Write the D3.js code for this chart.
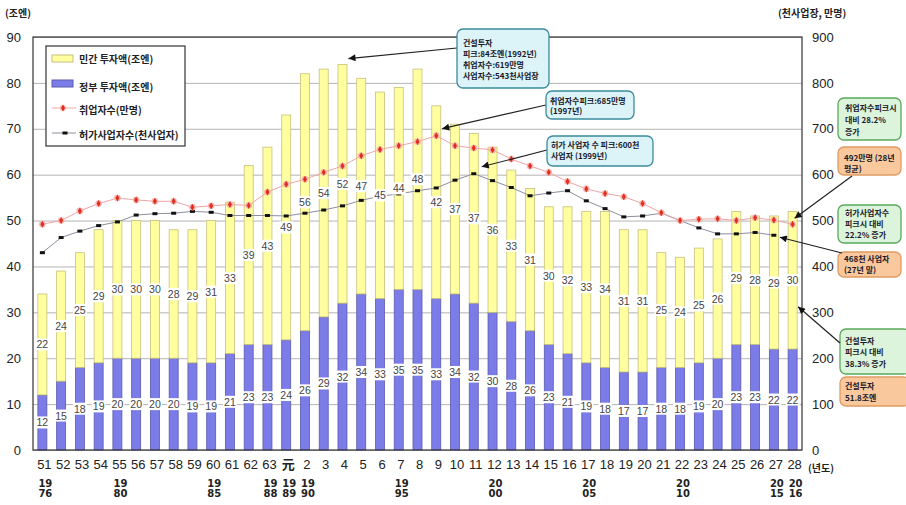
<!DOCTYPE html>
<html><head><meta charset="utf-8">
<script src="https://cdn.jsdelivr.net/npm/d3@7"></script>
<style>body{margin:0;background:#fff} svg{display:block}</style>
</head><body><svg id="c" width="906" height="505"></svg>
<script>
// ---------- DATA ----------
const categories = ["51","52","53","54","55","56","57","58","59","60","61","62","63","元",
  "2","3","4","5","6","7","8","9","10","11","12","13","14","15","16","17","18","19","20",
  "21","22","23","24","25","26","27","28"];
const westernYears = ["1976","","","","1980","","","","","1985","","","1988","1989",
  "1990","","","","","1995","","","","","2000","","","","","2005","","","",
  "","2010","","","","","2015","2016"];
const govInvest = [12,15,18,19,20,20,20,20,19,19,21,23,23,24,26,29,32,34,33,35,35,33,34,32,30,28,26,23,21,19,18,17,17,18,18,19,20,23,23,22,22];
const privInvest = [22,24,25,29,30,30,30,28,29,31,33,39,43,49,56,54,52,47,45,44,48,42,37,37,36,33,31,30,32,33,34,31,31,25,24,25,26,29,28,29,30];
const employment = [492,500,521,537,549,545,542,542,529,532,535,533,562,579,590,605,619,641,655,663,672,685,663,658,654,634,619,605,585,569,559,552,537,517,500,503,504,500,506,501,492];
const permits = [430,463,477,489,497,512,515,516,520,518,511,511,511,510,516,523,532,544,553,558,565,571,588,602,587,572,554,560,565,543,526,508,510,516,500,484,471,471,474,468,null];
const leftTicks = [0,10,20,30,40,50,60,70,80,90];
const rightTicks = [0,100,200,300,400,500,600,700,800,900];
const legendLabels = ["민간 투자액(조엔)","정부 투자액(조엔)","취업자수(만명)","허가사업자수(천사업자)"];

// ---------- SETUP ----------
const KR = "'Noto Sans CJK KR','Noto Sans',sans-serif";
const NUM = "'Liberation Sans',Arial,sans-serif";
const svg = d3.select("#c");
svg.append("rect").attr("width",906).attr("height",505).attr("fill","#fff");
const P = {l:33, r:802, t:37, b:450};
const x = d3.scaleBand().domain(categories).range([P.l,P.r]).paddingInner(0.52).paddingOuter(0.26);
const xc = c => x(c) + x.bandwidth()/2;
const yL = d3.scaleLinear().domain([0,90]).range([P.b,P.t]);
const yR = d3.scaleLinear().domain([0,900]).range([P.b,P.t]);

// gridlines
const grid = svg.append("g").attr("transform",`translate(${P.l},0)`)
  .call(d3.axisLeft(yL).tickValues(leftTicks).tickSize(-(P.r-P.l)).tickFormat(""));
grid.select(".domain").remove();
grid.selectAll("line").attr("stroke","#b4b4b4").attr("stroke-width",1);

// left axis labels
const ax1 = svg.append("g").attr("transform",`translate(${P.l},0)`)
  .call(d3.axisLeft(yL).tickValues(leftTicks).tickSize(0).tickPadding(12));
ax1.select(".domain").remove();
ax1.selectAll("text").attr("font-family",NUM).attr("font-size",13).attr("fill","#222");
// right axis labels
const ax2 = svg.append("g").attr("transform",`translate(${P.r},0)`)
  .call(d3.axisRight(yR).tickValues(rightTicks).tickSize(0).tickPadding(10));
ax2.select(".domain").remove();
ax2.selectAll("text").attr("font-family",NUM).attr("font-size",13).attr("fill","#222");
// bottom axis labels
const ax3 = svg.append("g").attr("transform",`translate(2,${P.b})`)
  .call(d3.axisBottom(x).tickSize(0).tickPadding(10));
ax3.select(".domain").remove();
ax3.selectAll("text").attr("font-family",(d)=> d==="元"?KR:NUM).attr("font-size",13)
  .attr("font-weight",(d)=> d==="元"?"bold":"normal").attr("fill","#222");

// western years
const wy = svg.append("g");
categories.forEach((c,i)=>{
  const w = westernYears[i]; if(!w) return;
  const t = wy.append("text").attr("x",xc(c)+3).attr("text-anchor","middle")
    .attr("font-family","'DejaVu Sans',sans-serif").attr("font-weight","bold").attr("font-size",10).attr("fill","#222");
  t.append("tspan").attr("x",xc(c)+3).attr("y",487).text(w.slice(0,2));
  t.append("tspan").attr("x",xc(c)+3).attr("y",497).text(w.slice(2));
});

// titles
svg.append("text").attr("x",5).attr("y",17).attr("font-family",KR).attr("font-weight","bold").attr("font-size",10).attr("fill","#222").text("(조엔)");
svg.append("text").attr("x",778).attr("y",17).attr("font-family",KR).attr("font-weight","bold").attr("font-size",10).attr("fill","#222").text("(천사업장, 만명)");
svg.append("text").attr("x",808).attr("y",472).attr("font-family",KR).attr("font-weight","bold").attr("font-size",10).attr("fill","#222").text("(년도)");

// ---------- BARS ----------
const rows = categories.map((c,i)=>({cat:c, gov:govInvest[i], priv:privInvest[i]}));
const stack = d3.stack().keys(["gov","priv"])(rows);
const fills = {gov:"#7c7ce9", priv:"#ffffa0"};
const strokes = {gov:"#5a5aae", priv:"#c8c07c"};
stack.forEach(layer=>{
  svg.append("g").selectAll("rect").data(layer).join("rect")
    .attr("x",d=>x(d.data.cat)).attr("width",x.bandwidth())
    .attr("y",d=>yL(d[1])).attr("height",d=>yL(d[0])-yL(d[1]))
    .attr("fill",fills[layer.key]).attr("stroke",strokes[layer.key]).attr("stroke-width",0.8);
});

// ---------- LINES ----------
const lineGen = d3.line().defined(d=>d.v!=null).x(d=>xc(d.c)).y(d=>yR(d.v));
const empData = categories.map((c,i)=>({c, v:employment[i]}));
const perData = categories.map((c,i)=>({c, v:permits[i]}));
svg.append("path").datum(perData).attr("d",lineGen).attr("fill","none").attr("stroke","#8e8e9e").attr("stroke-width",1);
svg.append("path").datum(empData).attr("d",lineGen).attr("fill","none").attr("stroke","#f3a4a4").attr("stroke-width",1);
svg.append("g").selectAll("rect").data(perData.filter(d=>d.v!=null)).join("rect")
  .attr("x",d=>xc(d.c)-2.5).attr("y",d=>yR(d.v)-1.5).attr("width",5).attr("height",3).attr("fill","#111");
const emG = svg.append("g");
emG.selectAll("circle").data(empData).join("circle")
  .attr("cx",d=>xc(d.c)).attr("cy",d=>yR(d.v)).attr("r",3.3).attr("fill","#f6b4b4");
emG.selectAll("path").data(empData).join("path")
  .attr("transform",d=>`translate(${xc(d.c)},${yR(d.v)})`)
  .attr("d",d3.symbol(d3.symbolDiamond,14)).attr("fill","#e0301c");

// ---------- BAR LABELS ----------
const lblG = svg.append("g");
stack.forEach(layer=>{
  layer.forEach(d=>{
    const cy = (yL(d[0])+yL(d[1]))/2;
    const val = d[1]-d[0];
    const g = lblG.append("g");
    const t = g.append("text").attr("x",xc(d.data.cat)).attr("y",cy).attr("text-anchor","middle")
      .attr("dominant-baseline","central").attr("font-family",NUM).attr("font-size",10.5).attr("fill","#444").text(val);
    const bb = t.node().getBBox();
    g.insert("rect","text").attr("x",bb.x-1).attr("y",cy-6).attr("width",bb.width+2).attr("height",12).attr("fill","#fff");
  });
});

// frame
svg.append("rect").attr("x",P.l).attr("y",P.t).attr("width",P.r-P.l).attr("height",P.b-P.t)
  .attr("fill","none").attr("stroke","#333").attr("stroke-width",1.2);

// ---------- LEGEND ----------
const lg = svg.append("g");
lg.append("rect").attr("x",46).attr("y",46).attr("width",139).attr("height",100).attr("fill","#fff").attr("stroke","#333").attr("stroke-width",1.2);
lg.append("rect").attr("x",52).attr("y",55).attr("width",21).attr("height",7).attr("fill",fills.priv).attr("stroke",strokes.priv);
lg.append("rect").attr("x",52).attr("y",80).attr("width",21).attr("height",7).attr("fill",fills.gov).attr("stroke",strokes.gov);
lg.append("line").attr("x1",52).attr("x2",76).attr("y1",108).attr("y2",108).attr("stroke","#f3a4a4");
lg.append("circle").attr("cx",63).attr("cy",108).attr("r",3).attr("fill","#f6b4b4");
lg.append("path").attr("transform","translate(63,108)").attr("d",d3.symbol(d3.symbolDiamond,14)).attr("fill","#e0301c");
lg.append("line").attr("x1",52).attr("x2",76).attr("y1",133).attr("y2",133).attr("stroke","#8e8e9e");
lg.append("rect").attr("x",62.5).attr("y",131.5).attr("width",5).attr("height",3).attr("fill","#111");
[58,86,109,134].forEach((yy,i)=>{
  lg.append("text").attr("x",79).attr("y",yy).attr("dominant-baseline","central")
    .attr("font-family",KR).attr("font-weight","bold").attr("font-size",10).attr("fill","#222").text(legendLabels[i]);
});

// ---------- CALLOUTS ----------
svg.append("defs").append("marker").attr("id","ah").attr("viewBox","0 0 10 10").attr("refX",10).attr("refY",5)
  .attr("markerWidth",9).attr("markerHeight",7).attr("orient","auto").attr("markerUnits","userSpaceOnUse")
  .append("path").attr("d","M0,0L10,5L0,10z").attr("fill","#111");
function arrow(x1,y1,x2,y2){
  svg.append("line").attr("x1",x1).attr("y1",y1).attr("x2",x2).attr("y2",y2)
    .attr("stroke","#222").attr("stroke-width",1.2).attr("marker-end","url(#ah)");
}
function box(bx,by,bw,bh,fill,stroke,lines,tx,ty,lh){
  svg.append("rect").attr("x",bx).attr("y",by).attr("width",bw).attr("height",bh).attr("rx",6)
    .attr("fill",fill).attr("stroke",stroke).attr("stroke-width",1.3);
  lines.forEach((s,i)=> svg.append("text").attr("x",tx).attr("y",ty+i*lh).attr("dominant-baseline","central")
    .attr("font-family",KR).attr("font-weight","bold").attr("font-size",8).attr("fill","#1a1a2a").text(s));
}
const CY_F="#dcf3f8", CY_S="#3b8a9c", GR_F="#dcf4dc", GR_S="#5aa85a", OR_F="#f9c89c", OR_S="#e09a62";

arrow(457,48, xc("4")+6, yL(84)-6);
box(457,29,92,59,CY_F,CY_S,["건설투자","피크:84조엔(1992년)","취업자수:619만명","사업자수:543천사업장"],463,42,11);
arrow(546,105, xc("9")+6, yR(685)-7);
box(546,91,88,28,CY_F,CY_S,["취업자수피크:685만명","(1997년)"],550,100,10);
arrow(547,150, xc("11")+8, yR(602)-7);
box(547,136,106,30,CY_F,CY_S,["허가 사업자 수 피크:600천","사업자 (1999년)"],551,144,11);

box(838,98,63,42,GR_F,GR_S,["취업자수피크시","대비 28.2%","증가"],845,107,12);
box(838,147,63,28,OR_F,OR_S,["492만명 (28년","평균)"],844,157,11);
arrow(852,176, xc("28")+2, yR(492)-6);
box(838,205,63,38,GR_F,GR_S,["허가사업자수","피크시 대비","22.2% 증가"],845,212,11);
box(838,252,63,25,OR_F,OR_S,["468천 사업자","(27년 말)"],844,258,11);
arrow(842,253, xc("27")+6, yR(468)+2);
box(840,329,70,45,GR_F,GR_S,["건설투자","피크시 대비","38.3% 증가"],845,340,11.5);
box(840,377,70,29,OR_F,OR_S,["건설투자","51.8조엔"],845,385,12);
arrow(840,343, x("28")+x.bandwidth()+1, yL((govInvest[40]+privInvest[40])*0.6));
</script></body></html>
